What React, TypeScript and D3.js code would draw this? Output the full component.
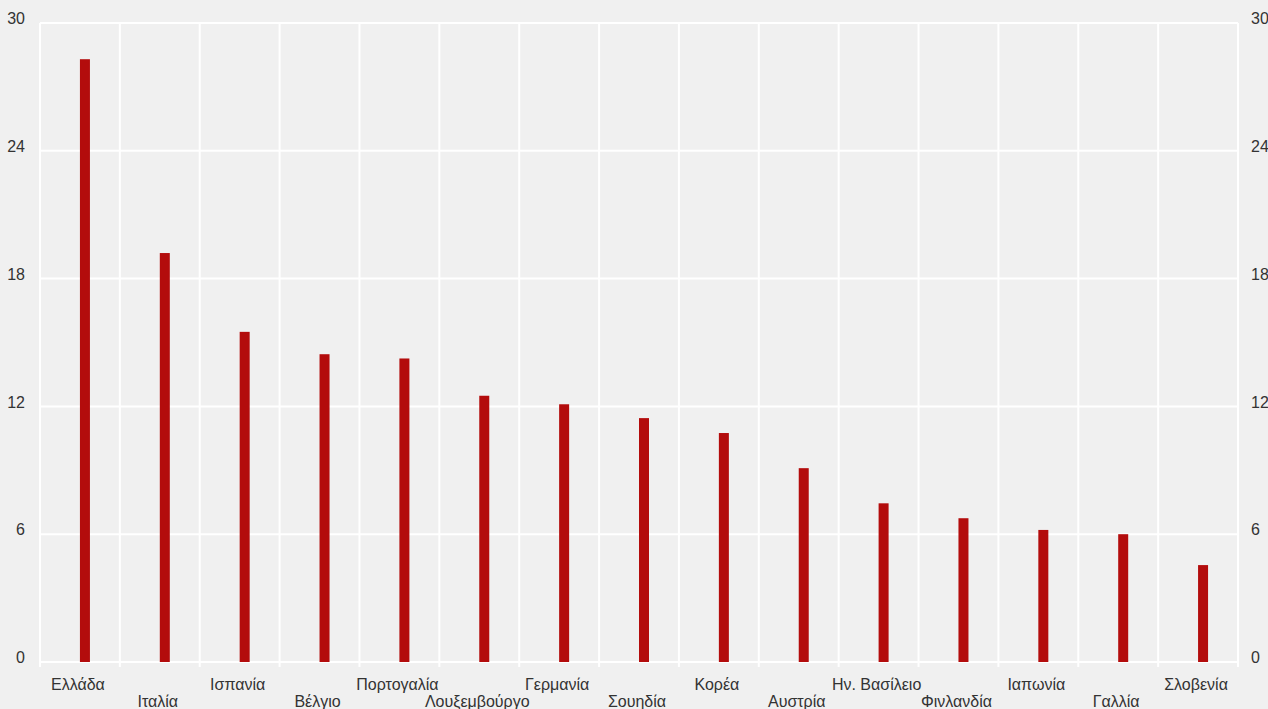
import React from "react";
import * as d3 from "d3";

const categories = ["Ελλάδα","Ιταλία","Ισπανία","Βέλγιο","Πορτογαλία","Λουξεμβούργο","Γερμανία","Σουηδία","Κορέα","Αυστρία","Ην. Βασίλειο","Φινλανδία","Ιαπωνία","Γαλλία","Σλοβενία"];
const values = [28.3,19.2,15.5,14.45,14.25,12.5,12.1,11.45,10.75,9.1,7.45,6.75,6.2,6.0,4.55];
const yTicks = [0,6,12,18,24,30];

const W = 1268, H = 709;
const M = { left: 40, right: 30, top: 23, bottom: 47 };

export default function App() {
  const x = d3.scaleBand<string>().domain(categories).range([M.left, W - M.right]).padding(0);
  const y = d3.scaleLinear().domain([0, 30]).range([H - M.bottom, M.top]);
  const bw = x.bandwidth();
  const font = "'Liberation Sans', Arial, sans-serif";
  return (
    <div style={{ position: "fixed", left: 0, top: 0, width: W, height: H }}>
      <svg width={W} height={H} style={{ display: "block" }}>
        <rect x={0} y={0} width={W} height={H} fill="#f0f0f0" />
        {yTicks.map(t => (
          <line key={"h" + t} x1={M.left} x2={W - M.right} y1={y(t)} y2={y(t)} stroke="#ffffff" strokeWidth={2} />
        ))}
        {categories.concat(["__end"]).map((c, i) => {
          const xx = M.left + i * bw;
          return <line key={"v" + i} x1={xx} x2={xx} y1={M.top} y2={y(0) + 5} stroke="#ffffff" strokeWidth={2} />;
        })}
        {categories.map((c, i) => (
          <rect key={"b" + c} x={(x(c) as number) + bw / 2} width={10} y={y(values[i])} height={y(0) - y(values[i])} fill="#b30c0c" />
        ))}
        {yTicks.map(t => (
          <text key={"yl" + t} x={25} y={y(t) - 3} textAnchor="end" dominantBaseline="middle" fontFamily={font} fontSize={16} fill="#333">{t}</text>
        ))}
        {yTicks.map(t => (
          <text key={"yr" + t} x={1251} y={y(t) - 3} textAnchor="start" dominantBaseline="middle" fontFamily={font} fontSize={16} fill="#333">{t}</text>
        ))}
        {categories.map((c, i) => (
          <text key={"xl" + c} x={(x(c) as number) + bw / 2 - 2} y={i % 2 === 0 ? 690 : 707} textAnchor="middle" fontFamily={font} fontSize={16} fill="#333">{c}</text>
        ))}
      </svg>
    </div>
  );
}
